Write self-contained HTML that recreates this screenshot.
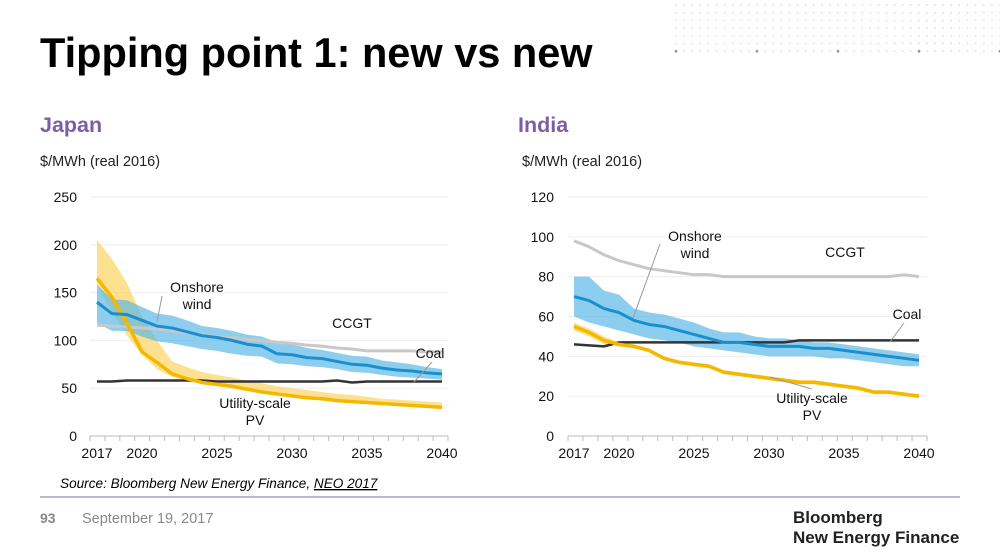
<!DOCTYPE html>
<html><head><meta charset="utf-8"><style>
body{margin:0;background:#fff;width:1000px;height:554px;overflow:hidden;font-family:"Liberation Sans",sans-serif}
svg{display:block}
</style></head><body>
<svg id="s" width="1000" height="554" viewBox="0 0 1000 554" font-family="Liberation Sans, sans-serif">
<g id="dots"></g>
<text x="40" y="67" font-size="41.5" font-weight="bold" fill="#000">Tipping point 1: new vs new</text>
<text x="40" y="132" font-size="21.5" font-weight="bold" fill="#7b5ea7">Japan</text>
<text x="40" y="166" font-size="14.5" fill="#222">$/MWh (real 2016)</text>
<text x="518" y="132" font-size="21.5" font-weight="bold" fill="#7b5ea7">India</text>
<text x="522" y="166" font-size="14.5" fill="#222">$/MWh (real 2016)</text>
<g id="japan"></g>
<g id="india"></g>
<text x="60" y="488" font-size="13.6" font-style="italic" fill="#000">Source: Bloomberg New Energy Finance, <tspan text-decoration="underline">NEO 2017</tspan></text>
<line x1="40" y1="497" x2="960" y2="497" stroke="#9b87c0" stroke-width="1.2"/>
<text x="40" y="523" font-size="14" font-weight="bold" fill="#888">93</text>
<text x="82" y="523" font-size="14.5" fill="#888">September 19, 2017</text>
<text x="793" y="523" font-size="17" font-weight="bold" fill="#222">Bloomberg</text>
<text x="793" y="543" font-size="17" font-weight="bold" fill="#222">New Energy Finance</text>
</svg>
<script>
const years=[2017,2018,2019,2020,2021,2022,2023,2024,2025,2026,2027,2028,2029,2030,2031,2032,2033,2034,2035,2036,2037,2038,2039,2040];
const jpWindMid=[140,128,127,121,115,113,109,105,103,100,96,94,86,85,82,81,78,75,74,71,69,68,66,65];
const jpWindHi=[158,143,142,135,128,126,121,115,113,110,106,104,98,96,92,90,87,84,83,79,77,75,72,70];
const jpWindLo=[118,110,110,104,99,97,94,91,89,86,84,83,76,75,73,72,70,67,66,64,62,61,60,59];
const jpPvMid=[165,145,118,88,77,65,60,56,54,52,49,46,44,42,40,39,37,36,35,34,33,32,31,30];
const jpPvHi=[205,185,160,125,100,78,72,67,64,61,58,55,52,50,48,46,44,43,41,39,38,37,36,35];
const jpPvLo=[158,130,105,85,70,62,58,54,52,50,47,45,43,41,39,38,36,35,34,33,32,31,30,29];
const jpCcgt=[116,115,114,113,112,110,108,106,104,103,101,100,98,97,95,94,92,91,89,89,89,89,88,88];
const jpCoal=[57,57,58,58,58,58,58,58,57,57,57,57,57,57,57,57,58,56,57,57,57,57,57,57];
const jpTicks=[0,50,100,150,200,250];
const inWindMid=[70,68,64,62,58,56,55,53,51,49,47,47,46,45,45,45,44,44,43,42,41,40,39,38];
const inWindHi=[80,80,73,71,64,62,61,59,57,54,52,52,50,49,49,48,47,47,46,45,44,43,42,41];
const inWindLo=[60,57,55,53,51,49,48,47,45,44,43,42,41,40,40,40,40,39,39,38,37,36,35,35];
const inPvMid=[55,52,48,46,45,43,39,37,36,35,32,31,30,29,28,27,27,26,25,24,22,22,21,20];
const inPvHi=[57,54,50,47,46,44,40,38,37,36,33,32,31,30,29,28,28,27,26,25,23,23,22,21];
const inPvLo=[53,50,46,45,44,42,38,36,35,34,31,30,29,28,27,26,26,25,24,23,21,21,20,19];
const inCcgt=[98,95,91,88,86,84,83,82,81,81,80,80,80,80,80,80,80,80,80,80,80,80,81,80];
const inCoal=[46,45.5,45,47,47,47,47,47,47,47,47,47,47,47,47,48,48,48,48,48,48,48,48,48];
const inTicks=[0,20,40,60,80,100,120];
const labelYears=[2017,2020,2025,2030,2035,2040];
const NS='http://www.w3.org/2000/svg';
function mk(t,a,p){const e=document.createElementNS(NS,t);for(const k in a)e.setAttribute(k,a[k]);p.appendChild(e);return e;}
const dg=document.getElementById('dots');
for(let r=0;r<7;r++)for(let c=0;c<41;c++){const big=(r==6&&c%10==0);const d=mk('circle',{cx:676+c*8.1,cy:5+r*7.7,r:big?1.4:0.7,fill:big?'#999':'#ccc'},dg);}
function chart(g,o){
  const x=y=>o.x0+(y-2017)*(o.x1-o.x0)/23;
  const y=v=>o.y0-v*(o.y0-o.yTop)/o.max;
  o.ticks.forEach(t=>{
    if(t>0){const l=mk('line',{x1:o.ax0,x2:o.ax1,y1:y(t),y2:y(t),stroke:'#eee'},g);}
    const tx=mk('text',{x:o.tickX,y:y(t)+5,'font-size':14,'text-anchor':'end',fill:'#111'},g);tx.textContent=t;
    
  });
  const ax=mk('line',{x1:o.ax0,x2:o.ax1,y1:o.y0,y2:o.y0,stroke:'#bbb'},g);
  for(let i=0;i<=24;i++){const xx=o.ax0+i*(o.ax1-o.ax0)/24;const tk=mk('line',{x1:xx,x2:xx,y1:o.y0,y2:o.y0+5,stroke:'#bbb'},g);}
  labelYears.forEach(yr=>{const t=mk('text',{x:x(yr),y:o.y0+22,'font-size':14,'text-anchor':'middle',fill:'#111'},g);t.textContent=yr;});
  const band=(hi,lo,col,name)=>{let d='M'+years.map((yr,i)=>x(yr)+','+y(hi[i])).join('L')+'L'+years.map((yr,i)=>[x(yr),y(lo[i])]).reverse().map(p=>p.join(',')).join('L')+'Z';const p=mk('path',{d:d,fill:col},g);};
  const line=(v,col,w,name)=>{const p=mk('polyline',{points:years.map((yr,i)=>x(yr)+','+y(v[i])).join(' '),fill:'none',stroke:col,'stroke-width':w,'stroke-linejoin':'round'},g);};
  band(o.pvHi,o.pvLo,'rgba(253,205,70,0.6)','pv-range');
  band(o.wHi,o.wLo,'rgba(80,180,230,0.65)','wind-range');
  line(o.ccgt,'#c8c8c8',3,'ccgt-line');
  line(o.coal,'#333',2.5,'coal-line');
  line(o.pv,'#f5b800',3.5,'pv-line');
  line(o.w,'#1a8fd0',3,'wind-line');
  o.labels.forEach(L=>{
    if(L.lead){const l=mk('line',{x1:L.lead[0],y1:L.lead[1],x2:L.lead[2],y2:L.lead[3],stroke:'#999'},g);}
    L.lines.forEach((s,i)=>{const t=mk('text',{x:L.x,y:L.y+i*17,'font-size':14,'text-anchor':'middle',fill:'#111'},g);t.textContent=s;});
  });
}
chart(document.getElementById('japan'),{x0:97,x1:442,ax0:90,ax1:448,y0:436,yTop:197,max:250,ticks:jpTicks,tickX:77,
 w:jpWindMid,wHi:jpWindHi,wLo:jpWindLo,pv:jpPvMid,pvHi:jpPvHi,pvLo:jpPvLo,ccgt:jpCcgt,coal:jpCoal,
 labels:[{name:'wind-label',x:197,y:292,lines:['Onshore','wind'],lead:[162,296,157,322]},{name:'ccgt-label',x:352,y:328,lines:['CCGT']},{name:'coal-label',x:430,y:358,lines:['Coal'],lead:[432,362,414,382]},{name:'pv-label',x:255,y:408,lines:['Utility-scale','PV']}]});
chart(document.getElementById('india'),{x0:574,x1:919,ax0:568,ax1:927,y0:436,yTop:197,max:120,ticks:inTicks,tickX:554,
 w:inWindMid,wHi:inWindHi,wLo:inWindLo,pv:inPvMid,pvHi:inPvHi,pvLo:inPvLo,ccgt:inCcgt,coal:inCoal,
 labels:[{name:'wind-label',x:695,y:241,lines:['Onshore','wind'],lead:[660,244,633,318]},{name:'ccgt-label',x:845,y:257,lines:['CCGT']},{name:'coal-label',x:907,y:319,lines:['Coal'],lead:[904,323,890,342]},{name:'pv-label',x:812,y:403,lines:['Utility-scale','PV'],lead:[812,389,770,377]}]});
</script>
</body></html>
